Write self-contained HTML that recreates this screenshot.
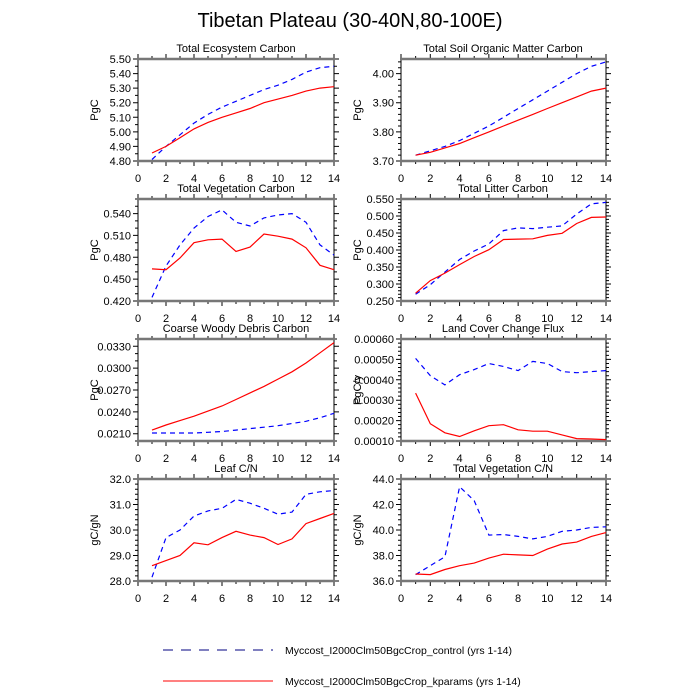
<!DOCTYPE html>
<html><head><meta charset="utf-8"><style>
html,body{margin:0;padding:0;background:#fff}
svg{display:block}
text{font-family:"Liberation Sans",sans-serif;fill:#000}
.t{font-size:11px;text-anchor:middle}
.yl{font-size:11px;text-anchor:end}
.xl{font-size:11px;text-anchor:middle}
.ax{font-size:11px;text-anchor:middle}
</style></head><body>
<svg id="s" width="700" height="700" viewBox="0 0 700 700" xmlns="http://www.w3.org/2000/svg">
<rect width="700" height="700" fill="#fff"/>
<text x="350" y="27" style="font-size:20px;text-anchor:middle">Tibetan Plateau (30-40N,80-100E)</text>
<g id="g"></g>
<text class="t" x="236" y="52">Total Ecosystem Carbon</text>
<text class="t" x="503" y="52">Total Soil Organic Matter Carbon</text>
<text class="t" x="236" y="192">Total Vegetation Carbon</text>
<text class="t" x="503" y="192">Total Litter Carbon</text>
<text class="t" x="236" y="332">Coarse Woody Debris Carbon</text>
<text class="t" x="503" y="332">Land Cover Change Flux</text>
<text class="t" x="236" y="472">Leaf C/N</text>
<text class="t" x="503" y="472">Total Vegetation C/N</text>
<text class="ax" transform="translate(98,110) rotate(-90)">PgC</text>
<text class="ax" transform="translate(361,110) rotate(-90)">PgC</text>
<text class="ax" transform="translate(98,250) rotate(-90)">PgC</text>
<text class="ax" transform="translate(361,250) rotate(-90)">PgC</text>
<text class="ax" transform="translate(98,390) rotate(-90)">PgC</text>
<text class="ax" transform="translate(361,390) rotate(-90)">PgC/y</text>
<text class="ax" transform="translate(98,530) rotate(-90)">gC/gN</text>
<text class="ax" transform="translate(361,530) rotate(-90)">gC/gN</text>
<g class="yl">
<text class="yl" x="131" y="165">4.80</text><text class="yl" x="131" y="150.4">4.90</text><text class="yl" x="131" y="135.9">5.00</text><text class="yl" x="131" y="121.3">5.10</text><text class="yl" x="131" y="106.7">5.20</text><text class="yl" x="131" y="92.1">5.30</text><text class="yl" x="131" y="77.6">5.40</text><text class="yl" x="131" y="63">5.50</text>
<text class="yl" x="394" y="165">3.70</text><text class="yl" x="394" y="135.9">3.80</text><text class="yl" x="394" y="106.7">3.90</text><text class="yl" x="394" y="77.6">4.00</text>
<text class="yl" x="131" y="305">0.420</text><text class="yl" x="131" y="283.1">0.450</text><text class="yl" x="131" y="261.3">0.480</text><text class="yl" x="131" y="239.4">0.510</text><text class="yl" x="131" y="217.6">0.540</text>
<text class="yl" x="394" y="305">0.250</text><text class="yl" x="394" y="288">0.300</text><text class="yl" x="394" y="271">0.350</text><text class="yl" x="394" y="254">0.400</text><text class="yl" x="394" y="237">0.450</text><text class="yl" x="394" y="220">0.500</text><text class="yl" x="394" y="203">0.550</text>
<text class="yl" x="131" y="437.7">0.0210</text><text class="yl" x="131" y="415.9">0.0240</text><text class="yl" x="131" y="394">0.0270</text><text class="yl" x="131" y="372.1">0.0300</text><text class="yl" x="131" y="350.3">0.0330</text>
<text class="yl" x="394" y="445">0.00010</text><text class="yl" x="394" y="424.6">0.00020</text><text class="yl" x="394" y="404.2">0.00030</text><text class="yl" x="394" y="383.8">0.00040</text><text class="yl" x="394" y="363.4">0.00050</text><text class="yl" x="394" y="343">0.00060</text>
<text class="yl" x="131" y="585">28.0</text><text class="yl" x="131" y="559.5">29.0</text><text class="yl" x="131" y="534">30.0</text><text class="yl" x="131" y="508.5">31.0</text><text class="yl" x="131" y="483">32.0</text>
<text class="yl" x="394" y="585">36.0</text><text class="yl" x="394" y="559.5">38.0</text><text class="yl" x="394" y="534">40.0</text><text class="yl" x="394" y="508.5">42.0</text><text class="yl" x="394" y="483">44.0</text>
</g>
<g>
<text class="xl" x="138" y="182">0</text><text class="xl" x="166" y="182">2</text><text class="xl" x="194" y="182">4</text><text class="xl" x="222" y="182">6</text><text class="xl" x="250" y="182">8</text><text class="xl" x="278" y="182">10</text><text class="xl" x="306" y="182">12</text><text class="xl" x="334" y="182">14</text>
<text class="xl" x="401" y="182">0</text><text class="xl" x="430.3" y="182">2</text><text class="xl" x="459.6" y="182">4</text><text class="xl" x="488.9" y="182">6</text><text class="xl" x="518.1" y="182">8</text><text class="xl" x="547.4" y="182">10</text><text class="xl" x="576.7" y="182">12</text><text class="xl" x="606" y="182">14</text>
<text class="xl" x="138" y="322">0</text><text class="xl" x="166" y="322">2</text><text class="xl" x="194" y="322">4</text><text class="xl" x="222" y="322">6</text><text class="xl" x="250" y="322">8</text><text class="xl" x="278" y="322">10</text><text class="xl" x="306" y="322">12</text><text class="xl" x="334" y="322">14</text>
<text class="xl" x="401" y="322">0</text><text class="xl" x="430.3" y="322">2</text><text class="xl" x="459.6" y="322">4</text><text class="xl" x="488.9" y="322">6</text><text class="xl" x="518.1" y="322">8</text><text class="xl" x="547.4" y="322">10</text><text class="xl" x="576.7" y="322">12</text><text class="xl" x="606" y="322">14</text>
<text class="xl" x="138" y="462">0</text><text class="xl" x="166" y="462">2</text><text class="xl" x="194" y="462">4</text><text class="xl" x="222" y="462">6</text><text class="xl" x="250" y="462">8</text><text class="xl" x="278" y="462">10</text><text class="xl" x="306" y="462">12</text><text class="xl" x="334" y="462">14</text>
<text class="xl" x="401" y="462">0</text><text class="xl" x="430.3" y="462">2</text><text class="xl" x="459.6" y="462">4</text><text class="xl" x="488.9" y="462">6</text><text class="xl" x="518.1" y="462">8</text><text class="xl" x="547.4" y="462">10</text><text class="xl" x="576.7" y="462">12</text><text class="xl" x="606" y="462">14</text>
<text class="xl" x="138" y="602">0</text><text class="xl" x="166" y="602">2</text><text class="xl" x="194" y="602">4</text><text class="xl" x="222" y="602">6</text><text class="xl" x="250" y="602">8</text><text class="xl" x="278" y="602">10</text><text class="xl" x="306" y="602">12</text><text class="xl" x="334" y="602">14</text>
<text class="xl" x="401" y="602">0</text><text class="xl" x="430.3" y="602">2</text><text class="xl" x="459.6" y="602">4</text><text class="xl" x="488.9" y="602">6</text><text class="xl" x="518.1" y="602">8</text><text class="xl" x="547.4" y="602">10</text><text class="xl" x="576.7" y="602">12</text><text class="xl" x="606" y="602">14</text>
</g>
<line x1="163" y1="650" x2="273" y2="650" stroke="#000080" stroke-width="1" stroke-dasharray="10,8"/>
<text x="285" y="654" style="font-size:10.5px">Myccost_I2000Clm50BgcCrop_control (yrs 1-14)</text>
<line x1="163" y1="681" x2="273" y2="681" stroke="#ff0000" stroke-width="1"/>
<text x="285" y="685" style="font-size:10.5px">Myccost_I2000Clm50BgcCrop_kparams (yrs 1-14)</text>
</svg>
<script>
var NS="http://www.w3.org/2000/svg",g=document.getElementById("g");
function el(n,a){var e=document.createElementNS(NS,n);for(var k in a)e.setAttribute(k,a[k]);g.appendChild(e);return e;}
var P=[
{c:0,r:0,mn:4.8,mx:5.5,mj:0.1,mi:0.05,
 b:[4.81,4.90,4.98,5.06,5.12,5.17,5.21,5.25,5.29,5.32,5.36,5.41,5.44,5.45],
 k:[4.855,4.90,4.96,5.02,5.065,5.10,5.13,5.16,5.20,5.225,5.25,5.28,5.30,5.31]},
{c:1,r:0,mn:3.7,mx:4.05,mj:0.1,mi:0.02,
 b:[3.72,3.735,3.75,3.77,3.795,3.82,3.85,3.88,3.91,3.94,3.97,4.0,4.025,4.04],
 k:[3.72,3.73,3.745,3.76,3.78,3.80,3.82,3.84,3.86,3.88,3.90,3.92,3.94,3.95]},
{c:0,r:1,mn:0.42,mx:0.56,mj:0.03,mi:0.01,
 b:[0.425,0.468,0.497,0.520,0.536,0.545,0.528,0.523,0.534,0.538,0.540,0.528,0.497,0.483],
 k:[0.464,0.463,0.479,0.500,0.504,0.505,0.488,0.494,0.512,0.509,0.505,0.493,0.469,0.463]},
{c:1,r:1,mn:0.25,mx:0.55,mj:0.05,mi:0.01,
 b:[0.270,0.298,0.335,0.372,0.397,0.418,0.457,0.465,0.463,0.467,0.471,0.506,0.536,0.540],
 k:[0.273,0.310,0.332,0.357,0.381,0.401,0.431,0.432,0.433,0.443,0.449,0.478,0.496,0.497]},
{c:0,r:2,mn:0.020,mx:0.034,mj:0.003,mi:0.001,o:0.021,
 b:[0.0211,0.0211,0.0211,0.0211,0.0212,0.0213,0.0215,0.0217,0.0219,0.0221,0.0224,0.0227,0.0232,0.0238],
 k:[0.0215,0.0222,0.0228,0.0234,0.0241,0.0248,0.0257,0.0266,0.0275,0.0285,0.0295,0.0307,0.0321,0.0335]},
{c:1,r:2,mn:0.0001,mx:0.0006,mj:0.0001,mi:0.00002,
 b:[0.000505,0.00042,0.000375,0.000425,0.00045,0.00048,0.000465,0.000445,0.00049,0.00048,0.00044,0.000435,0.00044,0.000445],
 k:[0.000335,0.000185,0.00014,0.000122,0.00015,0.000175,0.00018,0.000155,0.000148,0.000148,0.00013,0.000112,0.00011,0.000107]},
{c:0,r:3,mn:28,mx:32,mj:1,mi:0.2,
 b:[28.15,29.7,30.0,30.55,30.75,30.85,31.2,31.05,30.85,30.62,30.7,31.4,31.5,31.55],
 k:[28.6,28.8,29.0,29.5,29.42,29.7,29.95,29.8,29.7,29.43,29.65,30.25,30.45,30.65]},
{c:1,r:3,mn:36,mx:44,mj:2,mi:0.4,
 b:[36.5,37.2,37.9,43.4,42.3,39.6,39.65,39.5,39.3,39.5,39.9,40.0,40.2,40.25],
 k:[36.55,36.5,36.9,37.2,37.4,37.8,38.1,38.05,38.0,38.5,38.9,39.05,39.5,39.8]}
];
P.forEach(function(p){
 var x0=p.c?401:138,w=p.c?205:196,t=59+p.r*140,h=102,bt=t+h;
 function X(v){return x0+v/14*w;}
 function Y(v){return bt-(v-p.mn)/(p.mx-p.mn)*h;}
 var d="";
 for(var i=0;i<=14;i++){var x=X(i),L=(i%2==0)?5:3;d+="M"+x+" "+bt+"v"+L+"M"+x+" "+t+"v"+(-L);}
 var o=p.o!==undefined?p.o:p.mn,eps=p.mi*1e-3;
 var st=o;while(st-p.mi>=p.mn-eps)st-=p.mi;
 for(var v=st;v<=p.mx+eps;v+=p.mi){
  var q=(v-o)/p.mj,maj=Math.abs(q-Math.round(q))<1e-3,L=maj?5:3,y=Y(v);
  d+="M"+x0+" "+y+"h"+(-L)+"M"+(x0+w)+" "+y+"h"+L;}
 el("path",{d:d,stroke:"#000",fill:"none","stroke-width":1});
 el("line",{x1:x0,y1:t,x2:x0,y2:bt,stroke:"#000","stroke-width":1});
 el("line",{x1:x0+w,y1:t,x2:x0+w,y2:bt,stroke:"#000","stroke-width":1});
 el("line",{x1:x0-1,y1:t,x2:x0+w+1,y2:t,stroke:"#777","stroke-width":2.5});
 el("line",{x1:x0-1,y1:bt,x2:x0+w+1,y2:bt,stroke:"#777","stroke-width":2.5});
 function pts(a){return a.map(function(v,i){return X(i+1).toFixed(1)+","+Y(v).toFixed(1);}).join(" ");}
 el("polyline",{points:pts(p.b),fill:"none",stroke:"#0000ff","stroke-width":1.2,"stroke-dasharray":"5,4"});
 el("polyline",{points:pts(p.k),fill:"none",stroke:"#ff0000","stroke-width":1.2});
});
</script>
</body></html>
